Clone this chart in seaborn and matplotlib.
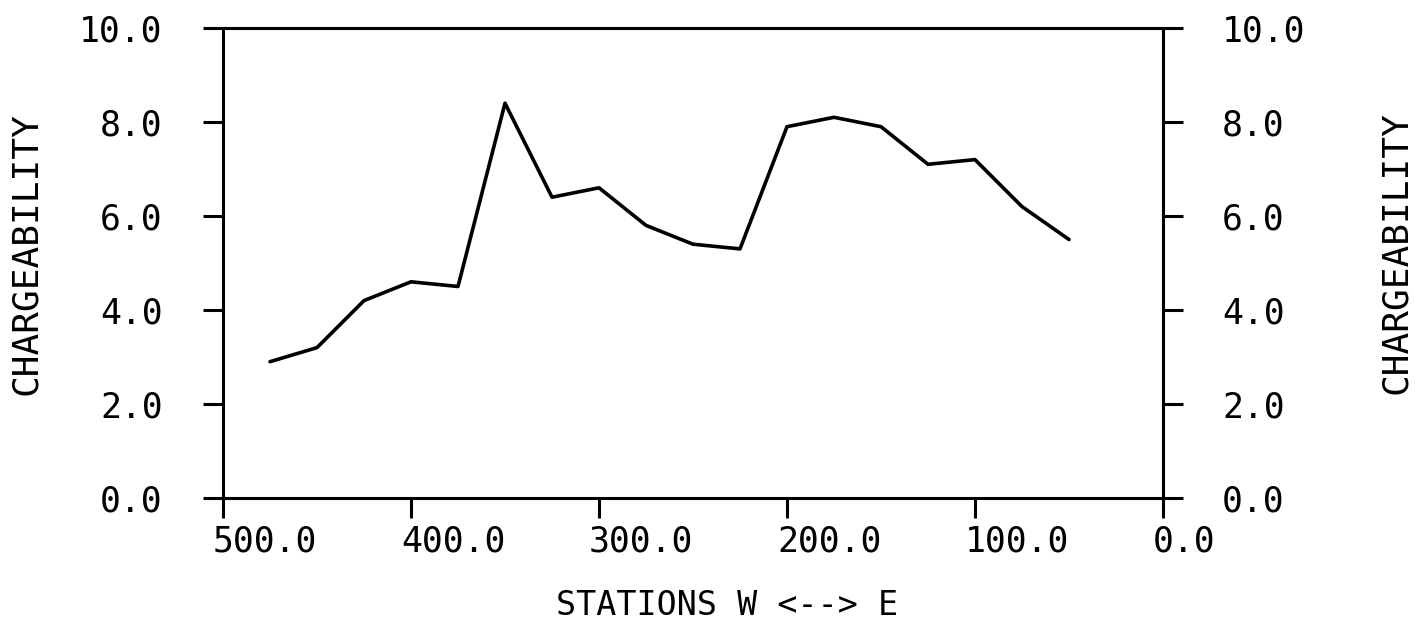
import matplotlib
matplotlib.use("Agg")
import matplotlib.pyplot as plt
import matplotlib.transforms as mtransforms
import numpy as np
import pandas as pd
import seaborn as sns

# Survey line: station position (m) and chargeability reading
stations = [475, 450, 425, 400, 375, 350, 325, 300, 275, 250,
            225, 200, 175, 150, 125, 100, 75, 50]
chargeability = [2.9, 3.2, 4.2, 4.6, 4.5, 8.4, 6.4, 6.6, 5.8, 5.4,
                 5.3, 7.9, 8.1, 7.9, 7.1, 7.2, 6.2, 5.5]

x_ticks = [500, 400, 300, 200, 100, 0]
x_tick_labels = ["500.0", "400.0", "300.0", "200.0", "100.0", "0.0"]
y_ticks = [0, 2, 4, 6, 8, 10]
y_tick_labels = ["0.0", "2.0", "4.0", "6.0", "8.0", "10.0"]

sns.set_theme(style="white")
plt.rcParams["font.family"] = ["DejaVu Sans Mono"]

df = pd.DataFrame({"station": stations, "chargeability": chargeability})

fig = plt.figure(figsize=(14.15, 6.22), dpi=100)
ax = fig.add_axes([223 / 1415, 124 / 622, 940 / 1415, 470 / 622])

sns.lineplot(data=df, x="station", y="chargeability", ax=ax,
             color="black", linewidth=2.6, sort=False)

ax.set_xlim(500, 0)
ax.set_ylim(0, 10)
ax.set_xlabel("")
ax.set_ylabel("")

for side in ["left", "right", "top", "bottom"]:
    ax.spines[side].set_visible(True)
    ax.spines[side].set_color("black")
    ax.spines[side].set_linewidth(2.2)

ax.set_xticks(x_ticks)
ax.set_xticklabels(x_tick_labels)
ax.set_yticks(y_ticks)
ax.set_yticklabels(y_tick_labels)

ax.tick_params(axis="x", direction="out", length=14.4, width=2.2,
               bottom=True, top=False, labelsize=25, pad=5, colors="black")
ax.tick_params(axis="y", direction="out", length=14.4, width=2.2,
               left=True, right=False, labelsize=25, pad=29, colors="black")

# x tick labels start just left of their tick
shift = mtransforms.ScaledTranslation(-10 / 100, 0, fig.dpi_scale_trans)
for lab in ax.get_xticklabels():
    lab.set_horizontalalignment("left")
    lab.set_transform(lab.get_transform() + shift)

# right-hand axis repeating the chargeability scale
ax2 = ax.twinx()
ax2.set_ylim(0, 10)
ax2.set_yticks(y_ticks)
ax2.set_yticklabels(y_tick_labels)
ax2.tick_params(axis="y", direction="out", length=14.4, width=2.2,
                right=True, left=False, labelsize=25, pad=28, colors="black")
for side in ["left", "right", "top", "bottom"]:
    ax2.spines[side].set_visible(False)
ax2.grid(False)
ax.grid(False)

fig.text(26 / 1415, 1 - 254 / 622, "CHARGEABILITY", rotation=90,
         ha="center", va="center", fontsize=26, color="black")
fig.text(1396 / 1415, 1 - 253 / 622, "CHARGEABILITY", rotation=90,
         ha="center", va="center", fontsize=26, color="black")
fig.text(727 / 1415, 1 - 615 / 622, "STATIONS W <--> E",
         ha="center", va="baseline", fontsize=24, color="black")

fig.savefig("out.png", dpi=100, facecolor="white")
